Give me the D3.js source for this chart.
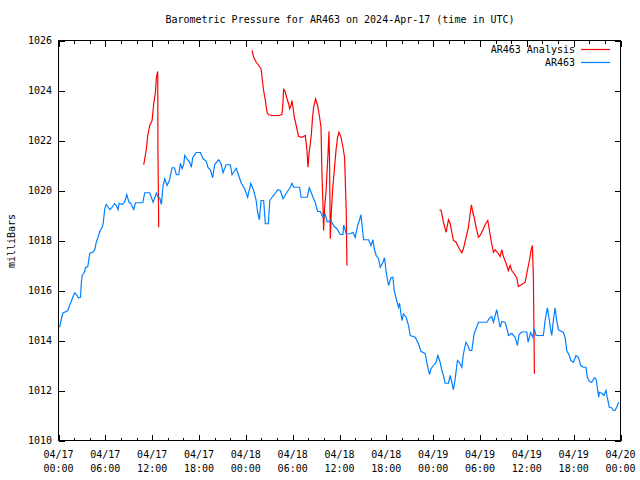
<!DOCTYPE html>
<html>
<head>
<meta charset="utf-8">
<script src="https://cdn.jsdelivr.net/npm/d3@7"></script>
<style>
  html, body { margin: 0; padding: 0; background: #fff; }
  svg text { font-family: "DejaVu Sans Mono", "Liberation Mono", monospace; font-size: 10px; fill: #000; }
</style>
</head>
<body>
<svg id="chart" width="640" height="480"></svg>
<script>
// ---- data (hours since 2024-04-17 00:00 UTC, pressure in mbar) ----
const titleText = "Barometric Pressure for AR463 on 2024-Apr-17 (time in UTC)";
const yLabel = "milliBars";
const seriesNames = ["AR463 Analysis", "AR463"];
const yTicks = [1010, 1012, 1014, 1016, 1018, 1020, 1022, 1024, 1026];
const yDomain = [1010, 1026];
const xDomainHours = [0, 72];

const observed = [
[0.13,1014.53],[0.38,1014.88],[0.55,1015.09],[1.19,1015.20],[1.41,1015.40],[1.63,1015.56],[1.83,1015.73],[2.09,1015.91],
[2.30,1015.84],[2.56,1015.71],[2.82,1015.73],[2.94,1016.36],[3.03,1016.60],[3.33,1016.73],[3.46,1016.91],[3.75,1016.96],
[4.01,1017.49],[4.39,1017.53],[4.65,1017.63],[4.86,1017.96],[5.08,1018.13],[5.29,1018.36],[5.59,1018.53],[5.72,1018.67],
[5.93,1019.27],[6.11,1019.44],[6.31,1019.36],[6.57,1019.23],[6.87,1019.33],[7.17,1019.47],[7.42,1019.40],[7.64,1019.23],
[7.77,1019.49],[8.15,1019.44],[8.41,1019.51],[8.61,1019.67],[8.74,1019.84],[9.05,1019.51],[9.22,1019.51],[9.64,1019.24],
[9.86,1019.51],[10.79,1019.51],[11.05,1019.91],[11.69,1019.91],[12.12,1019.53],[12.54,1019.89],[12.76,1019.73],[12.97,1019.71],
[13.18,1019.44],[13.40,1020.20],[13.61,1020.47],[13.91,1020.20],[14.21,1020.40],[14.55,1020.91],[14.85,1020.91],[15.10,1020.63],
[15.40,1020.63],[15.62,1021.09],[15.83,1020.87],[16.04,1021.04],[16.17,1021.40],[16.55,1021.23],[16.81,1021.13],[17.02,1020.93],
[17.19,1021.31],[17.63,1021.52],[18.18,1021.52],[18.52,1021.27],[18.94,1021.17],[19.16,1020.91],[19.46,1020.83],[19.75,1020.51],
[20.01,1021.04],[20.52,1021.23],[20.83,1021.07],[21.08,1020.71],[21.47,1021.03],[22.02,1021.03],[22.23,1020.63],[22.78,1020.89],
[23.08,1020.60],[23.42,1020.29],[23.85,1020.07],[24.23,1019.73],[24.64,1020.28],[25.00,1020.00],[25.31,1019.63],[25.51,1019.13],
[25.73,1018.83],[25.95,1019.60],[26.28,1019.60],[26.50,1018.67],[26.88,1018.67],[27.07,1019.60],[27.48,1019.78],[27.78,1019.89],
[28.07,1020.03],[28.42,1020.00],[28.76,1019.67],[29.27,1019.93],[29.70,1020.13],[29.91,1020.29],[30.12,1020.13],[30.89,1020.13],
[31.07,1019.73],[31.87,1019.73],[32.13,1020.11],[32.42,1019.88],[32.68,1019.67],[32.90,1019.52],[33.19,1019.16],[33.54,1019.16],
[33.88,1018.93],[34.18,1019.04],[34.43,1018.74],[34.88,1018.80],[35.33,1018.56],[35.67,1018.47],[36.10,1018.24],[36.44,1018.24],
[36.54,1018.62],[36.86,1018.27],[37.38,1018.27],[37.72,1018.33],[38.02,1018.12],[38.31,1018.58],[38.57,1018.83],[38.75,1019.03],
[39.08,1018.03],[39.72,1018.03],[40.03,1017.80],[40.28,1018.03],[40.45,1017.67],[40.70,1017.40],[41.00,1017.27],[41.22,1016.93],
[41.56,1017.13],[41.77,1017.31],[41.98,1016.73],[42.15,1016.43],[42.28,1016.20],[42.59,1016.51],[42.84,1016.53],[43.01,1016.00],
[43.26,1015.67],[43.56,1015.33],[43.69,1015.49],[43.99,1014.80],[44.20,1015.07],[44.54,1014.93],[44.84,1014.60],[45.06,1014.20],
[45.70,1014.13],[46.12,1013.87],[46.43,1013.57],[46.98,1013.47],[47.23,1013.04],[47.53,1012.64],[47.74,1012.88],[48.04,1013.00],
[48.38,1013.13],[48.60,1013.40],[48.90,1013.12],[49.11,1012.80],[49.32,1012.60],[49.54,1012.29],[49.96,1012.29],[50.18,1012.60],
[50.39,1012.33],[50.60,1012.03],[50.82,1012.47],[51.11,1013.20],[51.37,1013.13],[51.67,1012.93],[51.88,1013.47],[52.19,1013.93],
[52.44,1013.80],[52.65,1013.60],[52.95,1013.60],[53.25,1014.27],[53.50,1014.47],[53.80,1014.73],[54.87,1014.73],[55.21,1014.89],
[55.51,1014.96],[55.72,1014.73],[55.94,1015.00],[56.15,1015.23],[56.36,1014.87],[56.58,1014.53],[56.79,1014.76],[57.22,1014.72],
[57.51,1014.40],[57.64,1014.20],[58.07,1014.29],[58.50,1014.13],[58.79,1013.80],[59.01,1014.24],[59.33,1014.34],[59.99,1014.34],
[60.16,1013.93],[60.48,1014.32],[60.76,1014.13],[60.95,1014.48],[61.18,1014.20],[62.12,1014.20],[62.34,1014.80],[62.63,1015.31],
[62.89,1014.80],[63.07,1014.40],[63.19,1014.20],[63.40,1014.80],[63.62,1015.31],[63.83,1014.80],[64.04,1014.43],[64.68,1014.33],
[64.90,1014.13],[65.11,1013.60],[65.45,1013.40],[65.63,1013.20],[65.96,1013.13],[66.30,1013.40],[66.60,1013.33],[66.91,1013.00],
[67.24,1012.93],[67.58,1012.93],[67.75,1012.53],[68.01,1012.37],[68.31,1012.33],[68.65,1012.51],[68.86,1012.47],[69.03,1012.11],
[69.21,1011.73],[69.29,1011.93],[69.59,1011.89],[69.89,1011.80],[70.14,1012.00],[70.31,1011.71],[70.57,1011.33],[70.87,1011.31],
[71.08,1011.20],[71.30,1011.20],[71.51,1011.33],[71.77,1011.53]
];

const analysisRun1 = [
[10.92,1021.03],[11.23,1021.60],[11.43,1022.20],[11.69,1022.60],[11.99,1022.80],[12.20,1023.47],[12.42,1023.93],
[12.54,1024.53],[12.71,1024.76],[12.74,1021.60],[12.84,1018.53]
];
const analysisRun2 = [
[24.79,1025.60],[25.00,1025.33],[25.34,1025.13],[25.64,1025.00],[25.95,1024.87],[26.07,1024.53],[26.28,1024.00],[26.50,1023.60],
[26.71,1023.13],[26.92,1023.03],[27.35,1023.00],[28.20,1023.00],[28.63,1023.04],[28.76,1023.53],[28.84,1024.07],[29.06,1023.93],
[29.27,1023.67],[29.48,1023.47],[29.61,1023.27],[29.79,1023.40],[29.91,1023.60],[30.04,1023.33],[30.21,1022.93],[30.55,1022.47],
[30.76,1022.16],[31.19,1022.13],[31.62,1022.20],[31.83,1021.60],[31.96,1020.93],[32.09,1021.47],[32.26,1021.87],[32.38,1022.20],
[32.55,1022.93],[32.68,1023.33],[32.93,1023.67],[33.19,1023.40],[33.45,1022.93],[33.63,1022.53],[33.75,1020.67],[33.88,1019.47],
[33.96,1018.40],[34.09,1019.33],[34.27,1019.93],[34.39,1020.67],[34.52,1021.40],[34.65,1022.37],[34.72,1021.33],[34.82,1018.07],
[34.94,1019.07],[35.11,1020.00],[35.33,1020.80],[35.55,1021.60],[35.75,1022.13],[35.93,1022.33],[36.19,1022.13],[36.44,1021.73],
[36.65,1021.33],[36.86,1019.20],[36.95,1017.00]
];
const analysisRun3 = [
[48.81,1019.23],[49.02,1019.20],[49.32,1018.73],[49.66,1018.33],[49.96,1018.83],[50.18,1018.67],[50.39,1018.33],[50.60,1018.00],
[50.94,1017.93],[51.24,1017.73],[51.67,1017.51],[51.88,1017.67],[52.22,1018.13],[52.52,1018.53],[52.74,1019.07],[52.90,1019.43],
[53.08,1019.13],[53.25,1018.93],[53.50,1018.53],[53.80,1018.13],[54.02,1018.20],[54.44,1018.47],[54.75,1018.69],[55.00,1018.80],
[55.21,1018.40],[55.42,1018.00],[55.72,1017.53],[55.94,1017.63],[56.23,1017.53],[56.58,1017.36],[56.79,1017.63],[57.00,1017.36],
[57.34,1017.09],[57.64,1016.80],[57.86,1017.00],[58.07,1016.80],[58.37,1016.67],[58.71,1016.51],[58.92,1016.16],[59.35,1016.24],
[59.78,1016.33],[60.07,1016.80],[60.33,1017.20],[60.54,1017.60],[60.71,1017.80],[60.84,1016.53],[60.97,1012.67]
];

// ---- layout ----
const svg = d3.select("#chart");
const L = 58.5, R = 620.5, T = 40.5, B = 440.5;
const base = Date.UTC(2024, 3, 17, 0, 0);
const toDate = h => new Date(base + h * 3600e3);

const x = d3.scaleUtc().domain(xDomainHours.map(toDate)).range([L, R]);
const y = d3.scaleLinear().domain(yDomain).range([B, T]);

const majorTicks = d3.utcHour.every(6).range(toDate(0), toDate(72.01));
const minorTicks = d3.utcHour.every(2).range(toDate(0), toDate(72.01));
const fmtDay = d3.utcFormat("%m/%d"), fmtTime = d3.utcFormat("%H:%M");

// ticks via axes (bottom and top mirror)
function styleAxis(g) {
  g.select(".domain").remove();
  g.selectAll("line").attr("stroke", "#000").attr("shape-rendering", "crispEdges");
}
svg.append("g").attr("transform", `translate(0,${B})`)
  .call(d3.axisBottom(x).tickValues(minorTicks).tickSize(-3).tickFormat(""))
  .call(styleAxis);
svg.append("g").attr("transform", `translate(0,${T})`)
  .call(d3.axisTop(x).tickValues(minorTicks).tickSize(-3).tickFormat(""))
  .call(styleAxis);
const xb = svg.append("g").attr("transform", `translate(0,${B})`)
  .call(d3.axisBottom(x).tickValues(majorTicks).tickSize(-6).tickFormat(""))
  .call(styleAxis);
svg.append("g").attr("transform", `translate(0,${T})`)
  .call(d3.axisTop(x).tickValues(majorTicks).tickSize(-6).tickFormat(""))
  .call(styleAxis);

// x labels (two lines)
const xl = svg.append("g");
majorTicks.forEach(d => {
  const t = xl.append("text").attr("text-anchor", "middle").attr("x", x(d));
  t.append("tspan").attr("x", x(d)).attr("y", 458).text(fmtDay(d));
  t.append("tspan").attr("x", x(d)).attr("y", 472).text(fmtTime(d));
});

// y ticks left/right
svg.append("g").attr("transform", `translate(${L},0)`)
  .call(d3.axisLeft(y).tickValues(yTicks).tickSize(-6).tickFormat(""))
  .call(styleAxis);
svg.append("g").attr("transform", `translate(${R},0)`)
  .call(d3.axisRight(y).tickValues(yTicks).tickSize(-6).tickFormat(""))
  .call(styleAxis);
svg.append("g").selectAll("text").data(yTicks).join("text")
  .attr("x", 52).attr("y", d => y(d)).attr("dy", "0.35em")
  .attr("text-anchor", "end").text(d => d);

// border
svg.append("rect").attr("x", L).attr("y", T).attr("width", R - L).attr("height", B - T)
  .attr("fill", "none").attr("stroke", "#000").attr("shape-rendering", "crispEdges");

// lines
const line = d3.line().x(d => x(toDate(d[0]))).y(d => y(d[1]));
const redColor = "#ff0000", blueColor = "#0080ff";
[analysisRun1, analysisRun2, analysisRun3].forEach(run => {
  svg.append("path").datum(run).attr("d", line)
    .attr("fill", "none").attr("stroke", redColor).attr("stroke-width", 1.2);
});
svg.append("path").datum(observed).attr("d", line)
  .attr("fill", "none").attr("stroke", blueColor).attr("stroke-width", 1.2);

// title
svg.append("text").attr("x", 340).attr("y", 23).attr("text-anchor", "middle").text(titleText);
// y label
svg.append("text").attr("transform", "translate(15,241) rotate(-90)")
  .attr("text-anchor", "middle").text(yLabel);

// legend
const legendColors = [redColor, blueColor];
const lg = svg.append("g");
seriesNames.forEach((name, i) => {
  const yy = 49.5 + i * 13;
  lg.append("text").attr("x", 575).attr("y", yy).attr("dy", "0.35em")
    .attr("text-anchor", "end").text(name);
  lg.append("line").attr("x1", 581).attr("x2", 610).attr("y1", yy).attr("y2", yy)
    .attr("stroke", legendColors[i]).attr("stroke-width", 1.2);
});
</script>
</body>
</html>
